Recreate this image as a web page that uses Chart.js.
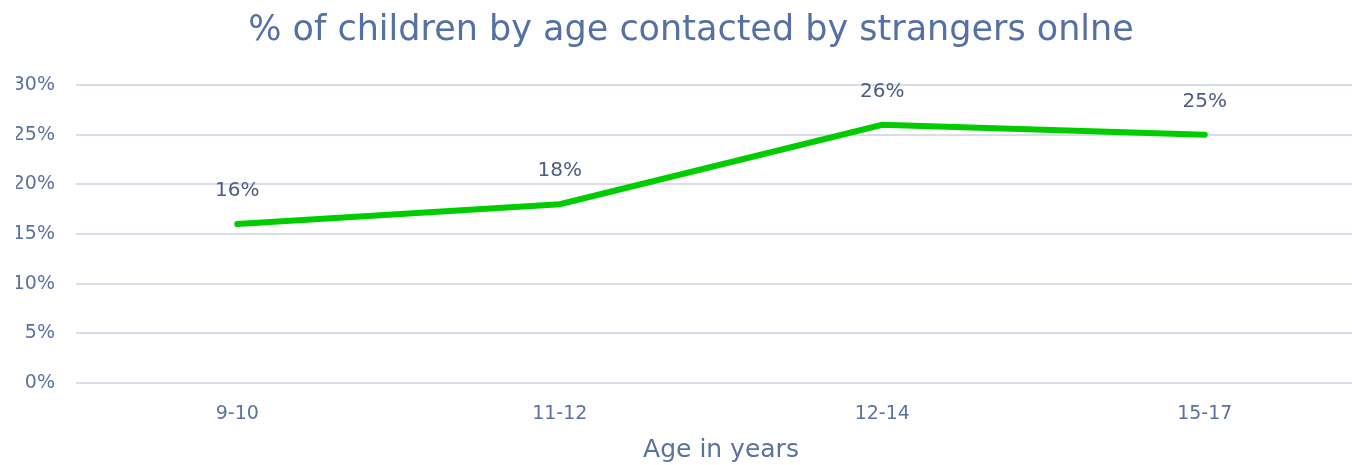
<!DOCTYPE html>
<html>
<head>
<meta charset="utf-8">
<script src="https://cdn.jsdelivr.net/npm/chart.js@4/dist/chart.umd.min.js"></script>
<style>
html,body{margin:0;padding:0;background:#fff;overflow:hidden;}
#wrap{width:1366px;height:465px;}
</style>
</head>
<body>
<div id="wrap"><canvas id="c" width="1366" height="465"></canvas></div>
<script>
const categories=['9-10','11-12','12-14','15-17'];
const values=[0.16,0.18,0.26,0.25];
const yTicks=[0,0.05,0.10,0.15,0.20,0.25,0.30];

const FONT='"DejaVu Sans", sans-serif';
const pct=v=>Math.round(v*100)+'%';

// labels above each point
const pointLabels={id:'pointLabels',afterDatasetsDraw(chart){
  const ctx=chart.ctx; const meta=chart.getDatasetMeta(0);
  ctx.save(); ctx.font='20px '+FONT; ctx.fillStyle='#4d5d80'; ctx.textAlign='center'; ctx.textBaseline='middle';
  meta.data.forEach((p,i)=>{ ctx.fillText(pct(values[i]),p.x,p.y-33); });
  ctx.restore();
}};

new Chart(document.getElementById('c'),{
  type:'line',
  data:{labels:categories,datasets:[{data:values,borderColor:'#00cc00',borderWidth:6,pointRadius:0,tension:0,borderCapStyle:'round',borderJoinStyle:'miter',fill:false}]},
  options:{
    responsive:false,animation:false,
    layout:{padding:{left:16,right:0,top:0,bottom:0}},
    plugins:{
      legend:{display:false},tooltip:{enabled:false},
      title:{display:true,text:'% of children by age contacted by strangers onlne',color:'#5470a4',font:{family:FONT,size:35,weight:'normal',lineHeight:1.2},padding:{top:10,bottom:33}}
    },
    scales:{
      x:{offset:true,grid:{display:false},border:{display:false},
        ticks:{color:'#5b72a0',font:{family:FONT,size:19},padding:12},
        title:{display:true,text:'Age in years',color:'#5b72a0',font:{family:FONT,size:25},padding:{top:10,bottom:0}},
        afterFit(s){s.height=82;}},
      y:{min:0,max:0.3,afterBuildTicks(s){s.ticks=yTicks.map(v=>({value:v}));},
        grid:{color:'#d9dce9',lineWidth:2,drawTicks:false},border:{display:false},
        ticks:{color:'#5b72a0',font:{family:FONT,size:19},padding:21,callback:v=>pct(v)},
        afterFit(s){s.width=60;}}
    }
  },
  plugins:[pointLabels]
});
</script>
</body>
</html>
